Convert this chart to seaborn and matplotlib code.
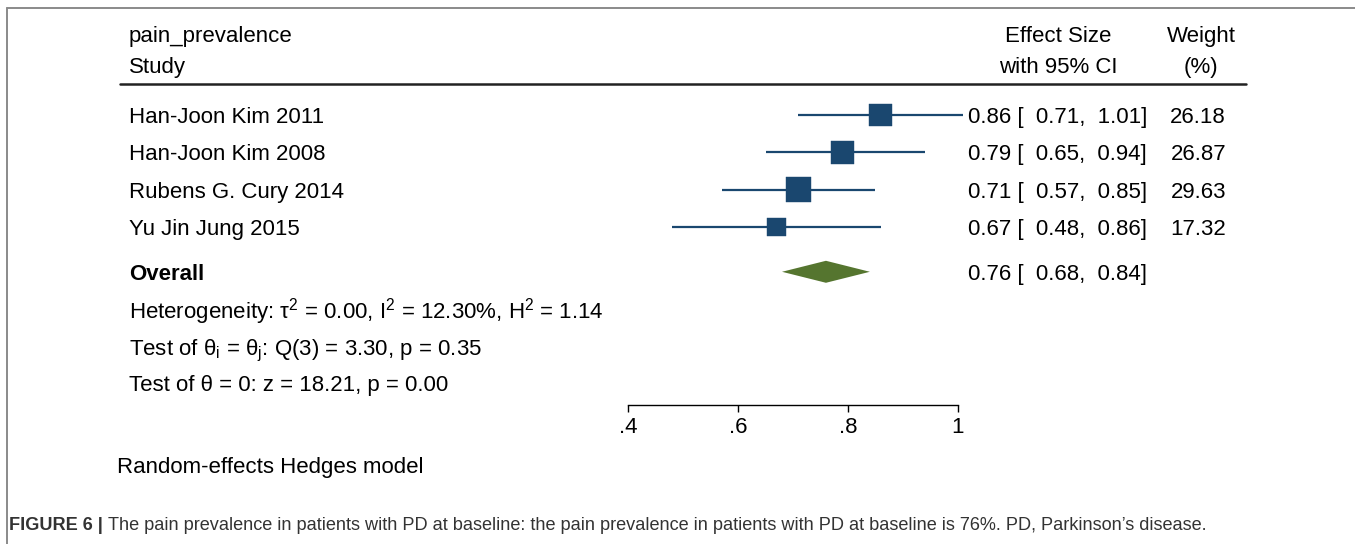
import matplotlib
matplotlib.use("Agg")
import matplotlib.pyplot as plt
import matplotlib.transforms as mtransforms
from matplotlib.lines import Line2D
import seaborn as sns
import pandas as pd

# Study-level estimates
studies = ["Han-Joon Kim 2011", "Han-Joon Kim 2008", "Rubens G. Cury 2014", "Yu Jin Jung 2015"]
effect = [0.86, 0.79, 0.71, 0.67]
ci_low = [0.71, 0.65, 0.57, 0.48]
ci_high = [1.01, 0.94, 0.85, 0.86]
weight = [26.18, 26.87, 29.63, 17.32]

# Pooled estimate
overall_effect = 0.76
overall_low = 0.68
overall_high = 0.84

stats_lines = [
    r"Heterogeneity: τ$^{2}$ = 0.00, I$^{2}$ = 12.30%, H$^{2}$ = 1.14",
    r"Test of θ$_{\mathrm{i}}$ = θ$_{\mathrm{j}}$: Q(3) = 3.30, p = 0.35",
    r"Test of θ = 0: z = 18.21, p = 0.00",
]
x_ticks = [0.4, 0.6, 0.8, 1.0]
x_tick_labels = [".4", ".6", ".8", "1"]
model_note = "Random-effects Hedges model"
caption_head = "FIGURE 6 |"
caption_body = ("The pain prevalence in patients with PD at baseline: the pain prevalence "
                "in patients with PD at baseline is 76%. PD, Parkinson’s disease.")

sns.set_theme(style="white")
plt.rcParams["font.family"] = ["Liberation Sans", "DejaVu Sans"]
plt.rcParams["mathtext.fontset"] = "custom"
plt.rcParams["mathtext.rm"] = "Liberation Sans"
plt.rcParams["mathtext.it"] = "Liberation Sans:italic"
plt.rcParams["mathtext.bf"] = "Liberation Sans:bold"
plt.rcParams["text.color"] = "black"
plt.rcParams["xtick.color"] = "black"

NAVY = "#1a476f"
GREEN = "#55752f"
FS = 16

W, H = 1355, 544
fig = plt.figure(figsize=(W / 100, H / 100), dpi=100)
fig.patch.set_facecolor("white")

def fx(px):
    return px / W

def fy(py):
    return 1 - py / H

# Forest panel: x in effect units, y in row units (row 1 = first study)
ax_left, ax_right, ax_top, ax_bottom = 628.3, 957.7, 84, 405
ax = fig.add_axes([fx(ax_left), fy(ax_bottom), fx(ax_right - ax_left), (ax_bottom - ax_top) / H])
row_px = 37.33
first_row_px = 115
ax.set_xlim(0.4, 1.0)
ax.set_ylim(1 + (ax_bottom - first_row_px) / row_px, 1 - (first_row_px - ax_top) / row_px)
ax.set_facecolor("none")

df = pd.DataFrame({
    "study": studies, "effect": effect, "low": ci_low, "high": ci_high,
    "weight": weight, "row": range(1, len(studies) + 1),
})

# Confidence intervals
ax.hlines(df["row"], df["low"], df["high"], color=NAVY, lw=1.6, clip_on=False, zorder=2)

# Squares with area proportional to weight
k = 10.36
wmin, wmax = min(weight), max(weight)
sns.scatterplot(data=df, x="effect", y="row", size="weight",
                sizes=(k * wmin, k * wmax), size_norm=(wmin, wmax),
                marker="s", color=NAVY, edgecolor=NAVY, linewidth=0.3,
                legend=False, ax=ax, clip_on=False, zorder=3)

# Pooled diamond
overall_row = 5.2
half_h = 11 / row_px
ax.fill([overall_low, overall_effect, overall_high, overall_effect],
        [overall_row, overall_row - half_h, overall_row, overall_row + half_h],
        color=GREEN, lw=0, clip_on=False, zorder=3)

# Axis styling
for side in ["top", "left", "right"]:
    ax.spines[side].set_visible(False)
ax.spines["bottom"].set_color("black")
ax.spines["bottom"].set_linewidth(1.0)
ax.set_xticks(x_ticks)
ax.set_xticklabels(x_tick_labels)
ax.set_yticks([])
ax.tick_params(axis="x", direction="out", length=5, width=1.0, color="black",
               labelsize=FS, labelcolor="black", pad=3.5, bottom=True)
ax.set_xlabel("")
ax.set_ylabel("")
ax.grid(False)

# Text columns: x in figure pixels, y in rows
tr = mtransforms.blended_transform_factory(fig.transFigure, ax.transData)

def row_text(x_px, row, s, **kw):
    ax.text(fx(x_px), row, s, transform=tr, fontsize=FS, va="center_baseline",
            color="black", clip_on=False, **kw)

for _, r in df.iterrows():
    row_text(129, r["row"], r["study"], ha="left")
    row_text(968, r["row"], f"{r['effect']:.2f} [  {r['low']:.2f},  {r['high']:.2f}]", ha="left")
    row_text(1226, r["row"], f"{r['weight']:.2f}", ha="right")

row_text(129, overall_row, "Overall", ha="left", fontweight="bold")
row_text(968, overall_row, f"{overall_effect:.2f} [  {overall_low:.2f},  {overall_high:.2f}]", ha="left")

for row, s in zip([6.14, 7.2, 8.17], stats_lines):
    row_text(129, row, s, ha="left")

# Header
def head_text(x_px, y_px, s, ha):
    fig.text(fx(x_px), fy(y_px), s, fontsize=FS, va="center_baseline", ha=ha, color="black")

head_text(129, 34, "pain_prevalence", "left")
head_text(129, 65, "Study", "left")
head_text(1058, 34, "Effect Size", "center")
head_text(1058, 65, "with 95% CI", "center")
head_text(1201, 34, "Weight", "center")
head_text(1201, 65, "(%)", "center")
fig.add_artist(Line2D([fx(120), fx(1246)], [fy(84), fy(84)], color="#222222", lw=1.8))

# Model note
head_text(117, 465, model_note, "left")

# Frame around the figure panel
fig.add_artist(Line2D([fx(7), 1.0], [fy(8), fy(8)], color="#8a8a8a", lw=1.4))
fig.add_artist(Line2D([fx(7), fx(7)], [fy(8), 0.0], color="#8a8a8a", lw=1.4))

# Caption
cap_color = "#333333"
CAP_FS = 13.1
head = fig.text(fx(9), fy(523), caption_head, fontsize=CAP_FS, fontweight="bold",
                color=cap_color, va="center_baseline", ha="left")
fig.canvas.draw()
bb = head.get_window_extent(renderer=fig.canvas.get_renderer())
fig.text(bb.x1 / W + fx(5), fy(523), caption_body, fontsize=CAP_FS,
         color=cap_color, va="center_baseline", ha="left")

fig.savefig("out.png", dpi=100, facecolor="white")
